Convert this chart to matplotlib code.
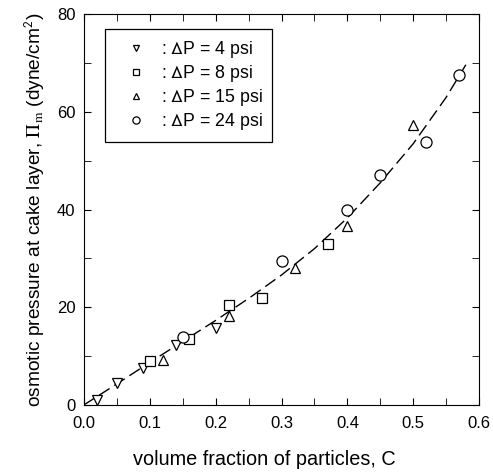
import numpy as np
import matplotlib
matplotlib.use("Agg")
import matplotlib.pyplot as plt
from matplotlib.ticker import MultipleLocator

# dP = 4 psi
c_4 = [0.02, 0.05, 0.09, 0.14, 0.20]
p_4 = [1.0, 4.4, 7.6, 12.2, 15.7]
# dP = 8 psi
c_8 = [0.10, 0.16, 0.22, 0.27, 0.37]
p_8 = [9.1, 13.5, 20.4, 22.0, 32.9]
# dP = 15 psi
c_15 = [0.12, 0.22, 0.32, 0.40, 0.50]
p_15 = [9.3, 18.2, 28.1, 36.7, 57.4]
# dP = 24 psi
c_24 = [0.15, 0.30, 0.40, 0.45, 0.52, 0.57]
p_24 = [14.0, 29.5, 39.9, 47.0, 53.9, 67.5]

# dashed model curve
c_fit = [0.0, 0.05, 0.10, 0.15, 0.20, 0.25, 0.30, 0.35, 0.40, 0.45, 0.50, 0.55, 0.58]
p_fit = [0.0, 4.3, 8.7, 13.0, 17.3, 21.8, 26.6, 32.0, 38.3, 45.5, 53.5, 63.0, 69.7]

plt.rcParams['font.family'] = ['Liberation Sans', 'DejaVu Sans']
plt.rcParams['mathtext.fontset'] = 'stix'
plt.rcParams['font.size'] = 12

fig = plt.figure(figsize=(4.93, 4.72), dpi=100)
ax = fig.add_axes([0.170, 0.142, 0.802, 0.828])

ax.plot(c_fit, p_fit, color='black', lw=1.0, dashes=(9, 4))

mk = dict(linestyle='none', mfc='white', mec='black', mew=0.9, ms=7.5)
ax.plot(c_4, p_4, marker='v', label=r': $\mathsf{\Delta}$P = 4 psi', **mk)
ax.plot(c_8, p_8, marker='s', label=r': $\mathsf{\Delta}$P = 8 psi', **dict(mk, ms=7))
ax.plot(c_15, p_15, marker='^', label=r': $\mathsf{\Delta}$P = 15 psi', **mk)
ax.plot(c_24, p_24, marker='o', label=r': $\mathsf{\Delta}$P = 24 psi', **dict(mk, ms=8))

ax.set_xlim(0, 0.6)
ax.set_ylim(0, 80)
ax.xaxis.set_major_locator(MultipleLocator(0.1))
ax.xaxis.set_minor_locator(MultipleLocator(0.05))
ax.yaxis.set_major_locator(MultipleLocator(20))
ax.yaxis.set_minor_locator(MultipleLocator(10))
ax.xaxis.set_major_formatter(matplotlib.ticker.FormatStrFormatter('%.1f'))
ax.tick_params(which='both', direction='in', top=True, right=True, labelsize=12)
ax.tick_params(which='major', length=5)
ax.tick_params(axis='x', which='major', pad=8)
ax.tick_params(axis='y', which='major', pad=6)
ax.tick_params(which='minor', length=5)

ax.set_xlabel('volume fraction of particles, C', fontsize=14.3)
ax.xaxis.set_label_coords(0.456, -0.115)
ax.set_ylabel(r'osmotic pressure at cake layer, $\Pi_\mathrm{m}$ (dyne/cm$^{\mathsf{2}}$)',
              fontsize=13.8, labelpad=7)

leg = ax.legend(loc='upper left', bbox_to_anchor=(0.053, 0.962), borderaxespad=0,
                markerscale=0.65, fancybox=False, edgecolor='black', framealpha=1,
                fontsize=12.8, handlelength=2.4, handletextpad=0.2, borderpad=0.55,
                labelspacing=0.18)
leg.get_frame().set_linewidth(0.9)

fig.savefig('out.png', dpi=100)
